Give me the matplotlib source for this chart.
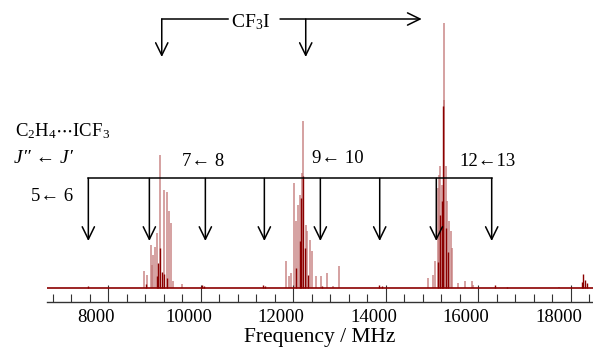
import matplotlib

matplotlib.use("Agg")
import matplotlib as mpl
import matplotlib.pyplot as plt
from matplotlib.ticker import MultipleLocator
from matplotlib.transforms import ScaledTranslation

mpl.rcParams.update(
    {
        "font.family": ["Liberation Serif", "DejaVu Serif"],
        "mathtext.fontset": "custom",
        "mathtext.rm": "Liberation Serif",
        "mathtext.it": "Liberation Serif:italic",
    }
)

# ---------------------------------------------------------------------------
# Data (frequency in MHz, intensity in arb. units)
# ---------------------------------------------------------------------------
light_mhz = [
    8778, 8837, 8917, 8952, 8973, 9010, 9047, 9118, 9211, 9263, 9319, 9349,
    9406, 9587,
    11836, 11901, 11958, 12009, 12066, 12109, 12139, 12189, 12211, 12269,
    12297, 12355, 12399, 12485, 12606, 12736, 12859, 12989,
    14907, 15028, 15065, 15137, 15158, 15180, 15215, 15253, 15266, 15296,
    15325, 15368, 15411, 15439, 15569, 15714, 15859, 15880, 17747,
]
light_int = [
    17, 13, 43, 23, 33, 41, 55, 133, 98, 96, 77, 65,
    7, 4,
    27, 12, 15, 105, 67, 83, 93, 115, 167, 63,
    57, 48, 37, 12, 12, 15, 2, 22,
    10, 13, 27, 100, 113, 122, 103, 188, 265, 122,
    87, 67, 57, 40, 5, 7, 7, 3, 1,
]
dark_mhz = [
    7567, 8815, 9047, 9081, 9118, 9155, 9211, 9269, 10026, 10070, 11346,
    11389, 12060, 12139, 12174, 12211, 12247, 12319, 12615, 13854, 13919,
    15137, 15173, 15223, 15245, 15296, 15353, 16373, 16622,
    18238, 18272, 18309, 18352,
]
dark_int = [
    2, 4, 12, 25, 40, 16, 14, 10, 3, 2, 3,
    2, 20, 47, 90, 112, 40, 13, 2, 3, 2,
    26, 73, 87, 182, 60, 36, 3, 1,
    6, 14, 8, 5,
]

# predicted C2H4...ICF3 transitions (J'' <- J') and CF3I lines
complex_mhz = [7567, 8887, 10098, 11374, 12585, 13869, 15093, 16291]
complex_labels = {0: "5\u2190 6", 2: "7\u2190 8", 4: "9\u2190 10", 7: "12\u219013"}
cf3i_mhz = [9155, 12269]
cf3i_right_end = 14778

XLIM = (6680, 18482)
YLIM = (-13.4, 288.3)
COL_DARK = "#8b0000"
COL_LIGHT = "#c27575"

fig = plt.figure(figsize=(5.93, 3.49), dpi=100)
ax = fig.add_axes([0.0798, 0.1355, 0.9202, 0.8645])

# spectrum
ax.plot(XLIM, [0, 0], color=COL_DARK, lw=1.2, zorder=2)
ax.vlines(light_mhz, 0, light_int, color=COL_LIGHT, lw=1.2, alpha=0.8, zorder=1)
ax.vlines(dark_mhz, 0, dark_int, color=COL_DARK, lw=1.0, zorder=2)

ax.set_xlim(*XLIM)
ax.set_ylim(*YLIM)

arrow_kw = dict(
    arrowstyle="->,head_length=0.45,head_width=0.22",
    color="black",
    lw=1.1,
    shrinkA=0,
    shrinkB=0,
    mutation_scale=20,
)

# C2H4...ICF3 comb
y_bar, y_tip = 110, 47.3
ax.plot([complex_mhz[0], complex_mhz[-1]], [y_bar, y_bar], color="black", lw=1.1)
for f in complex_mhz:
    ax.annotate("", xy=(f, y_tip), xytext=(f, y_bar), arrowprops=arrow_kw)

ax.text(complex_mhz[0] - 790, 91.6, complex_labels[0], fontsize=13.5,
        ha="center", va="center", clip_on=False)
ax.text(complex_mhz[2] - 40, 126.8, complex_labels[2], fontsize=13.5,
        ha="center", va="center")
ax.text(complex_mhz[4] + 380, 129.8, complex_labels[4], fontsize=13.5,
        ha="center", va="center")
ax.text(complex_mhz[7] - 80, 127.3, complex_labels[7], fontsize=13.5,
        ha="center", va="center")

ax.text(5980, 147, r"C$_2$H$_4$$\cdots$ICF$_3$", fontsize=13.5,
        ha="left", va="bottom", clip_on=False)
ax.text(5950, 121, "J\u2033 \u2190 J\u2032", fontsize=14, style="italic",
        ha="left", va="bottom", clip_on=False)

# CF3I bracket
y_top, y_ctip = 269.3, 231.3
ax.plot([cf3i_mhz[0], 10589], [y_top, y_top], color="black", lw=1.1)
ax.annotate("", xy=(cf3i_mhz[0], y_ctip), xytext=(cf3i_mhz[0], y_top),
            arrowprops=arrow_kw)
ax.annotate("", xy=(cf3i_right_end, y_top), xytext=(11713, y_top),
            arrowprops=arrow_kw)
ax.annotate("", xy=(cf3i_mhz[1], y_ctip), xytext=(cf3i_mhz[1], y_top),
            arrowprops=arrow_kw)
ax.text(11075, 266.5, r"CF$_3$I", fontsize=14, ha="center", va="center")

# axis styling
for side in ("left", "right", "top"):
    ax.spines[side].set_visible(False)
ax.spines["bottom"].set_color("#333333")
ax.spines["bottom"].set_linewidth(1.0)
ax.set_yticks([])
ax.xaxis.set_major_locator(MultipleLocator(2000))
ax.xaxis.set_minor_locator(MultipleLocator(400))
ax.tick_params(axis="x", which="major", direction="in", length=12, width=0.8,
               color="#333333", labelsize=13.5, pad=5.5)
ax.tick_params(axis="x", which="minor", direction="in", length=6, width=0.8,
               color="#333333")
ax.set_xlabel("Frequency / MHz", fontsize=15.5, labelpad=1.5)

# labels sit a little left of their ticks in the original
shift = ScaledTranslation(-12 / 100, 0, fig.dpi_scale_trans)
for lab in ax.get_xticklabels():
    lab.set_transform(lab.get_transform() + shift)

fig.savefig("out.png", dpi=100)
